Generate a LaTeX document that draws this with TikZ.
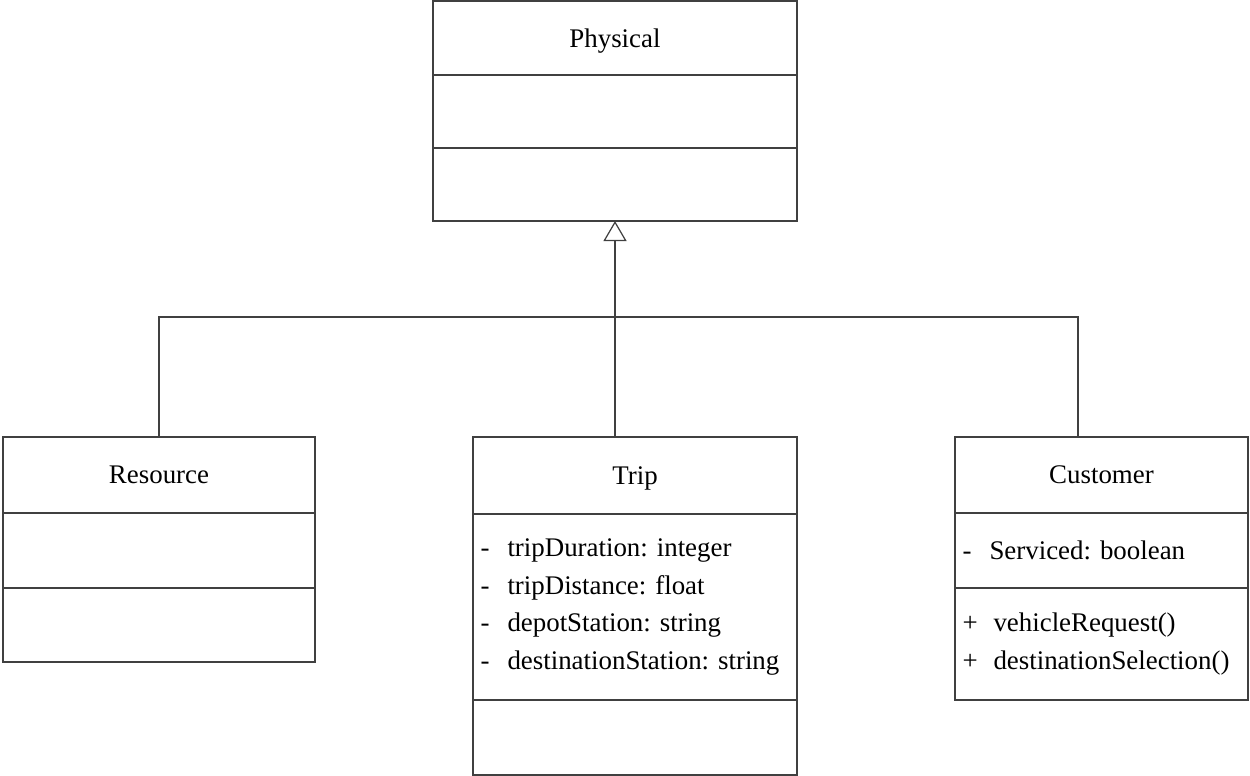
\documentclass[tikz,border=0pt]{standalone}
\usepackage{fontspec}
\setmainfont{Liberation Serif}
\usetikzlibrary{positioning,arrows.meta}

\tikzset{
  umlbox/.style={draw=black!75, line width=0.7pt, rectangle, inner sep=0pt, outer sep=0pt},
  umlname/.style={umlbox, text depth=0pt},
  umllist/.style={umlbox, align=left, inner xsep=0.15cm},
  umlline/.style={draw=black!75, line width=0.7pt},
}
\newcommand{\umlminus}{\makebox[0.54cm][l]{-}}
\newcommand{\umlplus}{\makebox[0.62cm][l]{+}}
\frenchspacing

\begin{document}
\begin{tikzpicture}[font=\fontsize{15.3}{21.4}\selectfont]
                    \useasboundingbox (0,0) rectangle (25,-15.5);
                    % Nodes
                    \node[umlname, anchor=north west, minimum width=7.28cm, minimum height=1.48cm] (physical) at (8.66,-0.02) {Physical};
                    \node[umlbox, minimum width=7.28cm, minimum height=1.46cm, below=0pt of physical] (physicalattr) {};
                    \node[umlbox, minimum width=7.28cm, minimum height=1.46cm, below=0pt of physicalattr] (physicalops) {};

                    \node[umlname, anchor=north west, minimum width=6.24cm, minimum height=1.52cm] (resource) at (0.06,-8.74) {Resource};
                    \node[umlbox, minimum width=6.24cm, minimum height=1.5cm, below=0pt of resource] (resourceattr) {};
                    \node[umlbox, minimum width=6.24cm, minimum height=1.48cm, below=0pt of resourceattr] (resourceops) {};

                    \node[umlname, anchor=north west, minimum width=6.48cm, minimum height=1.54cm] (trip) at (9.46,-8.74) {Trip};
                    \node[umllist, text width=6.18cm, minimum height=3.72cm, below=0pt of trip] (tripattr) {\umlminus tripDuration: integer\\ \umlminus tripDistance: float\\ \umlminus depotStation: string\\ \umlminus destinationStation: string};
                    \node[umlbox, minimum width=6.48cm, minimum height=1.5cm, below=0pt of tripattr] (tripops) {};

                    \node[umlname, anchor=north west, minimum width=5.86cm, minimum height=1.52cm] (customer) at (19.1,-8.74) {Customer};
                    \node[umllist, text width=5.56cm, minimum height=1.5cm, below=0pt of customer] (customerattr) {\umlminus Serviced: boolean};
                    \node[umllist, text width=5.56cm, minimum height=2.24cm, below=0pt of customerattr] (customerops) {\umlplus vehicleRequest()\\ \umlplus destinationSelection()};

                    \coordinate (busright) at (21.56,-6.34);
                    % Edges
                    \draw[umlline] (resource.north) |- (busright) -- (busright |- customer.north);
                    \draw[umlline, -{Triangle[open, length=0.4cm, width=0.46cm]}] (physicalops.south |- trip.north) -- (physicalops.south);
                \end{tikzpicture}
\end{document}
